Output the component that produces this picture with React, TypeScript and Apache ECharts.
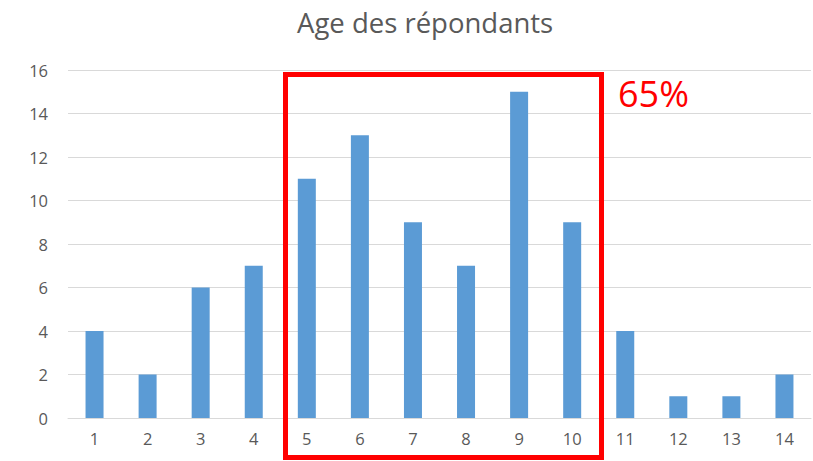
import React, { useEffect, useRef } from "react";
import * as echarts from "echarts";

const categories = ["1", "2", "3", "4", "5", "6", "7", "8", "9", "10", "11", "12", "13", "14"];
const counts = [4, 2, 6, 7, 11, 13, 9, 7, 15, 9, 4, 1, 1, 2];
const yTicks = { min: 0, max: 16, interval: 2 };
const titleText = "Age des répondants";
const boxLabel = "65%";

export default function App() {
  const ref = useRef<HTMLDivElement>(null);
  useEffect(() => {
    if (!ref.current) return;
    const chart = echarts.init(ref.current, undefined, { renderer: "svg" });
    const font = "'Open Sans', 'Noto Sans', sans-serif";
    chart.setOption({
      animation: false,
      backgroundColor: "#ffffff",
      title: {
        text: titleText,
        left: 292,
        top: 3,
        textStyle: { fontFamily: font, fontSize: 27.5, fontWeight: "normal", color: "#595959" },
      },
      grid: { left: 68, right: 2, top: 70, bottom: 43, containLabel: false },
      xAxis: {
        type: "category",
        data: categories,
        axisLine: { lineStyle: { color: "#d9d9d9", width: 1 } },
        axisTick: { show: false },
        axisLabel: { fontFamily: font, fontSize: 16.5, color: "#595959", margin: 12 },
      },
      yAxis: {
        type: "value",
        min: yTicks.min,
        max: yTicks.max,
        interval: yTicks.interval,
        axisLine: { show: false },
        axisTick: { show: false },
        splitLine: { lineStyle: { color: "#d9d9d9", width: 1 } },
        axisLabel: { fontFamily: font, fontSize: 16.5, color: "#595959", margin: 20 },
      },
      series: [
        {
          type: "bar",
          data: counts,
          barWidth: 18,
          itemStyle: { color: "#5b9bd5" },
        },
      ],
      graphic: [
        {
          type: "rect",
          shape: { x: 285.5, y: 74.5, width: 316, height: 383 },
          style: { fill: "none", stroke: "#ff0000", lineWidth: 5 },
          z: 100,
        },
        {
          type: "text",
          x: 618,
          y: 93,
          style: {
            text: boxLabel,
            fill: "#ff0000",
            font: `36px ${font}`,
            textVerticalAlign: "middle",
          },
          z: 100,
        },
      ],
    });
    return () => chart.dispose();
  }, []);
  return <div ref={ref} style={{ position: "fixed", left: 0, top: 0, width: 813, height: 461 }} />;
}
